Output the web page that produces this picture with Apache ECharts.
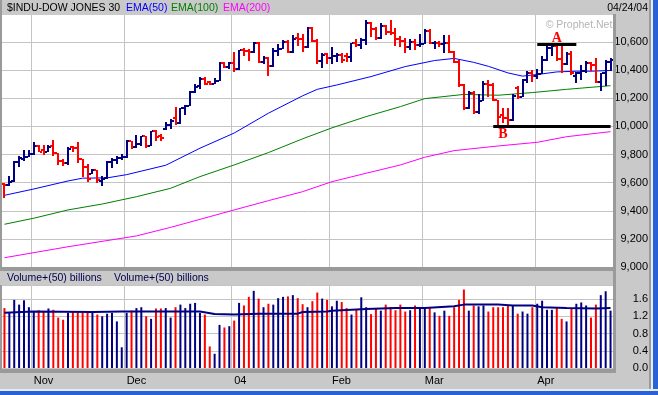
<!DOCTYPE html>
<html><head><meta charset="utf-8">
<script src="https://cdn.jsdelivr.net/npm/echarts@6/dist/echarts.min.js"></script>
<style>html,body{margin:0;padding:0;background:#c9c9c9}#c{width:658px;height:395px}</style>
</head><body><div id="c"></div>
<script>
// ---- DATA ----
const dates = [
'10/24','10/27','10/28','10/29','10/30','10/31',
'11/03','11/04','11/05','11/06','11/07','11/10','11/11','11/12','11/13','11/14','11/17','11/18','11/19','11/20','11/21','11/24','11/25','11/26','11/28',
'12/01','12/02','12/03','12/04','12/05','12/08','12/09','12/10','12/11','12/12','12/15','12/16','12/17','12/18','12/19','12/22','12/23','12/24','12/26','12/29','12/30','12/31',
'01/02','01/05','01/06','01/07','01/08','01/09','01/12','01/13','01/14','01/15','01/16','01/20','01/21','01/22','01/23','01/26','01/27','01/28','01/29','01/30',
'02/02','02/03','02/04','02/05','02/06','02/09','02/10','02/11','02/12','02/13','02/17','02/18','02/19','02/20','02/23','02/24','02/25','02/26','02/27',
'03/01','03/02','03/03','03/04','03/05','03/08','03/09','03/10','03/11','03/12','03/15','03/16','03/17','03/18','03/19','03/22','03/23','03/24','03/25','03/26','03/29','03/30','03/31',
'04/01','04/02','04/05','04/06','04/07','04/08','04/12','04/13','04/14','04/15','04/16','04/19','04/20','04/21','04/22','04/23'];

const opens = [
9590,9585,9610,9745,9770,9786,
9801,9858,9830,9821,9860,9809,9756,9737,9855,9848,9768,9710,9665,9690,9615,9630,9745,9763,9779,
9782,9899,9853,9873,9930,9862,9965,9930,9980,10008,10060,10022,10129,10145,10248,10285,10341,10315,10305,10324,10450,10425,
10454,10409,10544,10538,10529,10592,10458,10485,10427,10538,10553,10600,10528,10630,10623,10568,10702,10609,10468,10515,
10488,10499,10505,10500,10494,10593,10579,10613,10737,10694,10628,10714,10671,10665,10620,10610,10566,10601,10581,
10584,10678,10591,10593,10588,10596,10529,10457,10297,10128,10240,10102,10184,10300,10296,10186,10080,10063,10048,10270,10212,10329,10381,
10357,10373,10470,10558,10570,10480,10442,10515,10360,10377,10397,10451,10437,10317,10378,10461];
const highs = [
9596,9650,9752,9790,9830,9830,
9890,9868,9868,9868,9904,9812,9765,9856,9860,9890,9770,9735,9698,9692,9645,9752,9775,9790,9805,
9905,9900,9940,9935,9932,9968,9975,9945,10030,10054,10141,10130,10153,10250,10300,10355,10350,10320,10345,10455,10460,10460,
10530,10546,10555,10550,10600,10600,10500,10497,10558,10585,10615,10615,10650,10665,10655,10710,10710,10620,10521,10521,
10568,10526,10521,10521,10595,10620,10630,10755,10740,10710,10735,10724,10757,10700,10640,10627,10620,10625,10660,
10690,10690,10605,10605,10650,10650,10535,10475,10300,10255,10252,10230,10320,10330,10310,10190,10130,10130,10230,10285,10335,10393,10405,
10410,10500,10570,10585,10580,10570,10530,10540,10390,10440,10465,10455,10485,10380,10475,10490];
const lows = [
9490,9580,9605,9715,9750,9780,
9797,9815,9797,9815,9790,9730,9714,9728,9815,9740,9640,9610,9660,9600,9575,9625,9705,9730,9765,
9780,9840,9850,9865,9850,9860,9900,9895,9975,9980,10016,10017,10080,10141,10238,10270,10290,10295,10300,10320,10415,10410,
10385,10405,10500,10465,10520,10450,10440,10365,10425,10500,10550,10520,10520,10570,10530,10560,10605,10440,10415,10440,
10450,10461,10450,10455,10460,10560,10555,10580,10630,10615,10620,10650,10651,10570,10560,10520,10540,10550,10570,
10580,10585,10550,10560,10525,10525,10450,10285,10115,10125,10090,10090,10180,10210,10180,10010,10025,9995,10040,10190,10205,10310,10320,
10340,10370,10460,10500,10465,10380,10440,10370,10310,10330,10380,10390,10310,10250,10290,10400];
const closes = [
9582,9608,9748,9774,9786,9801,
9858,9820,9821,9857,9809,9756,9737,9837,9848,9768,9710,9624,9690,9619,9629,9747,9763,9779,9782,
9899,9853,9873,9930,9862,9965,9923,9921,10008,10042,10022,10129,10145,10248,10278,10341,10305,10305,10324,10450,10425,10454,
10409,10544,10538,10529,10592,10458,10485,10427,10538,10553,10600,10528,10623,10623,10568,10702,10609,10468,10510,10488,
10499,10505,10471,10494,10593,10579,10613,10737,10694,10628,10714,10671,10665,10620,10610,10566,10601,10581,10584,
10678,10591,10593,10588,10596,10529,10457,10297,10128,10240,10102,10184,10300,10296,10186,10064,10063,10048,10218,10212,10329,10381,10357,
10373,10470,10558,10570,10480,10442,10515,10381,10377,10397,10451,10437,10317,10378,10461,10472];

const volumes = [
1.39,1.28,1.58,1.47,1.57,1.41,
1.31,1.34,1.31,1.38,1.35,1.17,1.12,1.28,1.31,1.29,1.28,1.28,1.31,1.24,1.20,1.26,1.28,1.08,0.48,
1.28,1.33,1.39,1.41,1.20,1.14,1.38,1.38,1.39,1.17,1.41,1.47,1.39,1.49,1.51,1.28,1.24,0.50,0.33,1.00,0.94,0.97,
1.10,1.51,1.45,1.65,1.79,1.61,1.41,1.49,1.47,1.62,1.65,1.66,1.69,1.62,1.48,1.41,1.55,1.75,1.61,1.58,
1.43,1.56,1.53,1.39,1.24,1.35,1.64,1.41,1.25,1.37,1.33,1.47,1.41,1.34,1.47,1.31,1.34,1.45,1.40,
1.41,1.41,1.29,1.21,1.33,1.21,1.41,1.58,1.82,1.33,1.45,1.43,1.45,1.31,1.41,1.41,1.41,1.45,1.45,1.26,1.31,1.26,1.41,
1.49,1.56,1.35,1.35,1.41,1.14,1.08,1.39,1.49,1.52,1.45,1.17,1.47,1.69,1.78,1.33];

// moving averages as [bar index, value]
const ema50 = [[0,9510],[6,9555],[13,9612],[16,9632],[21,9634],[25,9657],[33,9724],[40,9845],[47,9953],[54,10094],[61,10218],[64,10264],[68,10295],[75,10355],[82,10426],[88,10469],[92,10484],[96,10456],[99,10428],[103,10381],[106,10358],[110,10374],[113,10388],[117,10393],[120,10393],[124,10398]];
const ema100 = [[0,9304],[6,9347],[13,9406],[20,9448],[27,9500],[34,9560],[40,9643],[47,9726],[54,9814],[61,9912],[67,9990],[74,10070],[81,10141],[86,10198],[94,10228],[101,10222],[108,10241],[115,10264],[124,10290]];
const ema200 = [[0,9066],[13,9144],[27,9221],[34,9282],[40,9339],[47,9406],[54,9472],[61,9536],[67,9607],[74,9667],[81,9726],[86,9781],[92,9828],[101,9861],[109,9887],[115,9927],[124,9963]];
const volMA = [[0,1.28],[6,1.31],[18,1.30],[24,1.31],[40,1.31],[43,1.25],[47,1.24],[52,1.26],[60,1.26],[61,1.30],[66,1.31],[67,1.33],[74,1.37],[80,1.39],[86,1.39],[92,1.43],[94,1.47],[101,1.47],[104,1.45],[108,1.45],[110,1.41],[115,1.39],[121,1.38],[124,1.39]];

const monthStarts = [6, 25, 47, 67, 86, 109];
const monthLabels = ['Nov', 'Dec', '04', 'Feb', 'Mar', 'Apr'];
const priceTicks = {min: 9000, max: 10800, step: 200};
const volTicks = {min: 0, max: 1.925, step: 0.4};
const levelA = {from: 109, to: 117, value: 10585, labelAt: 113, labelValue: 10623};
const levelB = {from: 100, to: 124, value: 10000, labelAt: 102, labelValue: 9943};

// ---- CHART ----
const NAVY = '#000080', RED = '#ff0000', GRIDC = '#c4c4c4', BG = '#c9c9c9', FRAME = '#9a9a9a';
const FONT = 'Liberation Sans, Arial, sans-serif';
const ohlc = closes.map((c, i) => [i, opens[i], highs[i], lows[i], c]);

function renderOHLC(params, api) {
  const i = api.value(0), o = api.value(1), h = api.value(2), l = api.value(3), c = api.value(4);
  const ph = api.coord([i, h]), pl = api.coord([i, l]);
  const yo = api.coord([i, o])[1], yc = api.coord([i, c])[1];
  const x = Math.round(ph[0]);
  const col = c < o ? RED : NAVY;
  return {type: 'group', children: [
    {type: 'rect', shape: {x: x - 1, y: Math.round(ph[1]), width: 2, height: Math.max(2, Math.round(pl[1] - ph[1]))}, style: {fill: col}},
    {type: 'rect', shape: {x: x - 3, y: Math.round(yo) - 1, width: 2, height: 2}, style: {fill: col}},
    {type: 'rect', shape: {x: x + 1, y: Math.round(yc) - 1, width: 2, height: 2}, style: {fill: col}}
  ]};
}

const isMonth = (i) => monthStarts.indexOf(i) >= 0;
function xAxisFor(g, labels) {
  return {
    type: 'category', gridIndex: g, data: dates, boundaryGap: true,
    axisLine: {show: false}, axisTick: {show: false},
    axisLabel: labels ? {show: true, interval: isMonth, formatter: (v, i) => monthLabels[monthStarts.indexOf(i)],
      align: 'left', margin: 7, color: '#000', fontSize: 11, fontFamily: FONT} : {show: false},
    splitLine: {show: true, interval: isMonth, lineStyle: {color: GRIDC, width: 1}}
  };
}

const chart = echarts.init(document.getElementById('c'), null, {renderer: 'canvas'});
const txt = (x, y, s, color, extra) => Object.assign({type: 'text', left: undefined, x: x, y: y, z: 20,
  style: Object.assign({text: s, fill: color, font: '10.5px ' + FONT, textVerticalAlign: 'middle'}, extra || {})});

chart.setOption({
  animation: false,
  backgroundColor: BG,
  grid: [
    {left: 2, top: 14, width: 611, height: 253, show: true, backgroundColor: '#fff', borderWidth: 0},
    {left: 2, top: 285, width: 611, height: 83, show: true, backgroundColor: '#fff', borderWidth: 0}
  ],
  xAxis: [xAxisFor(0, false), xAxisFor(1, true)],
  yAxis: [
    {type: 'value', gridIndex: 0, position: 'right', min: priceTicks.min, max: priceTicks.max, interval: priceTicks.step,
     axisLine: {show: false}, axisTick: {show: false},
     axisLabel: {align: 'right', margin: 35, showMaxLabel: false, color: '#000', fontSize: 11, fontFamily: FONT},
     splitLine: {lineStyle: {color: GRIDC}}},
    {type: 'value', gridIndex: 1, position: 'right', min: volTicks.min, max: volTicks.max, interval: volTicks.step,
     axisLine: {show: false}, axisTick: {show: false},
     axisLabel: {align: 'right', margin: 35, showMaxLabel: false, color: '#000', fontSize: 11, fontFamily: FONT,
       formatter: (v) => v.toFixed(1)},
     splitLine: {lineStyle: {color: GRIDC}}}
  ],
  series: [
    {type: 'line', xAxisIndex: 0, yAxisIndex: 0, data: ema200, symbol: 'none', lineStyle: {color: '#ff00ff', width: 1}, z: 2},
    {type: 'line', xAxisIndex: 0, yAxisIndex: 0, data: ema100, symbol: 'none', lineStyle: {color: '#008000', width: 1}, z: 2},
    {type: 'line', xAxisIndex: 0, yAxisIndex: 0, data: ema50, symbol: 'none', lineStyle: {color: '#0000ff', width: 1}, z: 2,
     markLine: {silent: true, symbol: ['none', 'none'], label: {show: false}, lineStyle: {color: '#000', width: 3, type: 'solid'},
       data: [
         [{coord: [levelA.from, levelA.value]}, {coord: [levelA.to, levelA.value]}],
         [{coord: [levelB.from, levelB.value]}, {coord: [levelB.to, levelB.value]}]
       ]},
     markPoint: {silent: true, symbol: 'circle', symbolSize: 1, itemStyle: {color: 'rgba(0,0,0,0)'},
       label: {show: true, position: 'inside', formatter: '{b}', color: '#ff0000', fontSize: 14, fontWeight: 'bold',
         fontFamily: 'Liberation Serif, Times New Roman, serif'},
       data: [
         {name: 'A', coord: [levelA.labelAt, levelA.labelValue]},
         {name: 'B', coord: [levelB.labelAt, levelB.labelValue]}
       ]}},
    {type: 'custom', xAxisIndex: 0, yAxisIndex: 0, data: ohlc, renderItem: renderOHLC, encode: {x: 0, y: [1, 2, 3, 4]}, z: 3},
    {type: 'bar', xAxisIndex: 1, yAxisIndex: 1, barWidth: 2,
     data: volumes.map((v, i) => ({value: v, itemStyle: {color: closes[i] < opens[i] ? RED : NAVY}})), z: 2},
    {type: 'line', xAxisIndex: 1, yAxisIndex: 1, data: volMA, symbol: 'none', lineStyle: {color: NAVY, width: 2}, z: 3}
  ],
  graphic: [
    // title bars & frames
    {type: 'rect', z: 10, shape: {x: 0, y: 0, width: 658, height: 15}, style: {fill: BG}},
    {type: 'rect', z: 10, shape: {x: 0, y: 0, width: 2, height: 373}, style: {fill: FRAME}},
    {type: 'rect', z: 10, shape: {x: 613, y: 14, width: 3, height: 257}, style: {fill: FRAME}},
    {type: 'rect', z: 10, shape: {x: 0, y: 267, width: 616, height: 4}, style: {fill: FRAME}},
    {type: 'rect', z: 10, shape: {x: 0, y: 271, width: 613, height: 14}, style: {fill: BG}},
    {type: 'rect', z: 10, shape: {x: 613, y: 271, width: 3, height: 102}, style: {fill: FRAME}},
    {type: 'rect', z: 10, shape: {x: 0, y: 369, width: 616, height: 4}, style: {fill: FRAME}},
    {type: 'rect', z: 10, shape: {x: 649, y: 0, width: 2, height: 389}, style: {fill: FRAME}},
    {type: 'rect', z: 10, shape: {x: 651, y: 0, width: 2, height: 395}, style: {fill: '#e4ecfa'}},
    {type: 'rect', z: 10, shape: {x: 653, y: 0, width: 5, height: 395}, style: {fill: '#2a62d6'}},
    {type: 'rect', z: 10, shape: {x: 0, y: 389, width: 658, height: 2}, style: {fill: '#e4ecfa'}},
    {type: 'rect', z: 10, shape: {x: 0, y: 391, width: 658, height: 4}, style: {fill: '#2a62d6'}},
    // texts
    txt(7, 8, '$INDU-DOW JONES 30', '#000'),
    txt(126, 8, 'EMA(50)', '#0000ff'),
    txt(171, 8, 'EMA(100)', '#008000'),
    txt(223, 8, 'EMA(200)', '#ff00ff'),
    txt(648, 8, '04/24/04', '#000', {textAlign: 'right'}),
    txt(579, 25, '\u00a9 Prophet.Net', '#b4b4b4', {textAlign: 'center'}),
    txt(7, 278, 'Volume+(50) billions', '#000050'),
    txt(114, 278, 'Volume+(50) billions', '#000050')
  ]
});
</script>
</body></html>
